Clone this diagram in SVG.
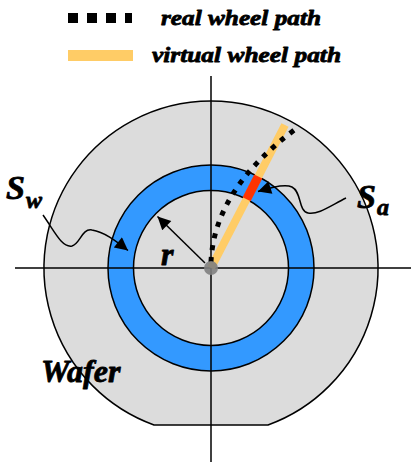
<svg xmlns="http://www.w3.org/2000/svg" width="411" height="462" viewBox="0 0 411 462">
<style>
.t{font-family:"Liberation Serif","Times New Roman",serif;font-weight:bold;font-style:italic;fill:#000;stroke:#000;stroke-width:0.8;stroke-linejoin:round}
.ln{stroke:#000;stroke-width:1.5;fill:none}
</style>
<defs>
<marker id="ah" viewBox="0 0 10 10" refX="10" refY="5" markerWidth="16" markerHeight="13" markerUnits="userSpaceOnUse" orient="auto">
<path d="M0,0 L10,5 L0,10 Z" fill="#000"/>
</marker>
</defs>
<rect width="411" height="462" fill="#fff"/>
<g id="legend">
<line x1="68" y1="18" x2="132" y2="18" stroke="#000" stroke-width="10" stroke-dasharray="10 9"/>
<text class="t" x="161" y="25" font-size="22" textLength="160" lengthAdjust="spacingAndGlyphs">real wheel path</text>
<line x1="68" y1="55.5" x2="133" y2="55.5" stroke="#ffcc66" stroke-width="11"/>
<text class="t" x="152" y="61.5" font-size="22" textLength="189" lengthAdjust="spacingAndGlyphs">virtual wheel path</text>
</g>
<g id="wafer">
<path d="M154,425 A167,167 0 1 1 268,425 Z" fill="#dcdcdc" stroke="#000" stroke-width="1.5"/>
</g>
<g id="ring">
<circle cx="211" cy="268" r="90.25" fill="none" stroke="#3399ff" stroke-width="25.5"/>
<circle cx="211" cy="268" r="103" class="ln"/>
<circle cx="211" cy="268" r="77.5" class="ln"/>
</g>
<g id="axes">
<line x1="211" y1="76" x2="211" y2="462" stroke="#000" stroke-width="1.5"/>
<line x1="15" y1="268" x2="411" y2="268" stroke="#000" stroke-width="1.5"/>
</g>
<g id="paths">
<line x1="211" y1="268" x2="285" y2="125" stroke="#ffcc66" stroke-width="8"/>
<line x1="246.6" y1="199.2" x2="258.3" y2="176.5" stroke="#ff3300" stroke-width="9"/>
<path d="M211,262 C213,215 240,170 297,128" fill="none" stroke="#000" stroke-width="5" stroke-dasharray="5 7"/>
<circle cx="211" cy="268" r="7" fill="#808080" opacity="0.9"/>
</g>
<g id="connectors">
<line x1="205" y1="263" x2="157.5" y2="216.5" stroke="#000" stroke-width="1.5" marker-end="url(#ah)"/>
<path d="M43,215 C55,232 62,248 72,246 C80,244 82,228 92,230 C104,232 115,240 128,250.5" fill="none" stroke="#000" stroke-width="1.5" marker-end="url(#ah)"/>
<path d="M346,198 C330,206 318,215 308,213 C298,211 302,192 292,187 C285,184 272,187 258,191.5" fill="none" stroke="#000" stroke-width="1.5" marker-end="url(#ah)"/>
</g>
<g id="labels">
<text class="t" x="6" y="199" font-size="34">S</text>
<text class="t" x="26" y="208" font-size="24">w</text>
<text class="t" x="357" y="208" font-size="34">S</text>
<text class="t" x="377" y="215" font-size="24">a</text>
<text class="t" x="161" y="265" font-size="32">r</text>
<text class="t" x="41" y="382" font-size="32">Wafer</text>
</g>
</svg>
